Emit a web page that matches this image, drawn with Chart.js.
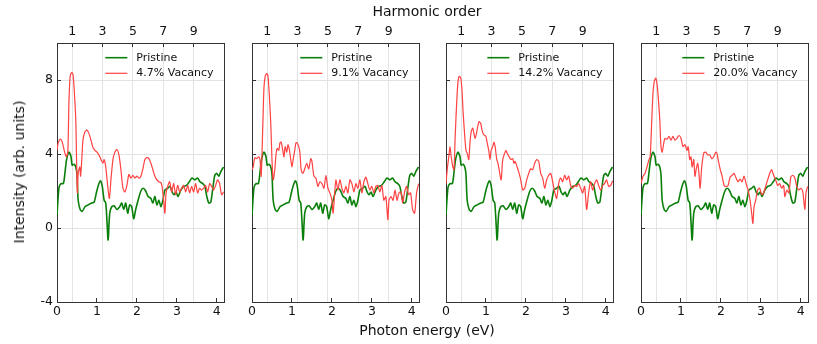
<!DOCTYPE html>
<html>
<head>
<meta charset="utf-8">
<script src="https://cdn.jsdelivr.net/npm/chart.js@4.4.0/dist/chart.umd.min.js"></script>
<style>
  body { margin: 0; background: #fff; }
  #fig { position: relative; width: 817px; height: 344px; overflow: hidden; font-family: "DejaVu Sans", sans-serif; color: #111; }
  #fig canvas { position: absolute; top: 0; }
  .lbl { position: absolute; font-size: 14px; white-space: nowrap; transform: translate(-50%, -50%); }
</style>
</head>
<body>
<div id="fig">
  <canvas id="p0" width="230" height="344"></canvas>
  <canvas id="p1" width="230" height="344"></canvas>
  <canvas id="p2" width="230" height="344"></canvas>
  <canvas id="p3" width="230" height="344"></canvas>
  <div class="lbl" style="left:427px;top:11px">Harmonic order</div>
  <div class="lbl" style="left:427px;top:330px">Photon energy (eV)</div>
  <div class="lbl" style="left:19px;top:172px;transform:translate(-50%,-50%) rotate(-90deg)">Intensity (arb. units)</div>
</div>
<script>
// photon energy (eV), intensity (arb. units)
const pristine = [[0,0.7],[0.05,2.2],[0.1,2.4],[0.16,2.4],[0.2,3.0],[0.24,3.7],[0.3,4.1],[0.35,3.85],[0.38,3.4],[0.43,3.45],[0.47,3.3],[0.5,2.9],[0.53,1.5],[0.58,1.0],[0.63,0.9],[0.7,1.15],[0.78,1.25],[0.87,1.35],[0.93,1.4],[0.99,1.95],[1.05,2.4],[1.09,2.55],[1.13,2.3],[1.18,1.5],[1.22,1.35],[1.25,0.4],[1.28,-0.65],[1.32,0.8],[1.37,1.15],[1.43,1.2],[1.5,1.0],[1.57,1.15],[1.62,1.35],[1.67,1.0],[1.72,1.35],[1.77,0.8],[1.82,1.25],[1.87,1.15],[1.92,0.5],[1.97,1.0],[2.03,1.5],[2.1,2.0],[2.16,2.15],[2.22,2.0],[2.28,1.7],[2.35,1.6],[2.4,1.35],[2.45,1.7],[2.5,1.25],[2.55,1.5],[2.6,1.15],[2.65,1.5],[2.7,2.05],[2.77,2.15],[2.83,2.25],[2.88,1.95],[2.93,1.8],[2.98,1.95],[3.03,1.7],[3.1,2.05],[3.17,2.25],[3.24,2.3],[3.31,2.5],[3.38,2.7],[3.45,2.6],[3.52,2.7],[3.58,2.5],[3.65,2.4],[3.7,2.25],[3.75,1.7],[3.8,1.35],[3.85,1.4],[3.9,2.15],[3.95,2.85],[4.0,2.95],[4.05,2.8],[4.1,3.05],[4.17,3.3]];

const vac47 = [[0,4.2],[0.03,4.6],[0.08,4.8],[0.13,4.65],[0.18,4.2],[0.23,3.85],[0.27,4.1],[0.3,6.9],[0.33,8.2],[0.37,8.4],[0.4,8.3],[0.43,7.5],[0.47,5.85],[0.49,3.7],[0.51,1.9],[0.53,2.95],[0.57,3.3],[0.59,2.8],[0.62,3.7],[0.65,4.75],[0.7,5.2],[0.75,5.3],[0.8,5.1],[0.85,4.75],[0.9,4.35],[0.95,4.2],[1.0,4.1],[1.05,3.95],[1.1,3.7],[1.15,3.5],[1.18,3.7],[1.22,3.3],[1.27,2.25],[1.31,1.6],[1.35,2.6],[1.4,3.7],[1.45,4.1],[1.5,4.25],[1.55,3.95],[1.6,3.15],[1.65,2.15],[1.7,1.95],[1.75,2.3],[1.8,2.9],[1.85,2.7],[1.9,2.85],[1.95,2.7],[2.0,2.8],[2.05,2.7],[2.1,2.8],[2.15,3.2],[2.2,3.7],[2.25,3.8],[2.3,3.75],[2.35,3.5],[2.4,3.15],[2.45,2.8],[2.5,2.6],[2.55,2.5],[2.6,2.45],[2.63,2.25],[2.67,1.5],[2.7,0.8],[2.73,1.9],[2.77,2.25],[2.82,2.5],[2.87,1.95],[2.92,2.4],[2.97,1.8],[3.02,2.3],[3.07,1.95],[3.12,2.15],[3.17,2.3],[3.22,1.95],[3.27,2.3],[3.32,1.9],[3.37,2.25],[3.42,1.95],[3.47,2.4],[3.52,1.9],[3.57,2.15],[3.62,2.05],[3.67,2.15],[3.72,2.3],[3.77,1.95],[3.82,2.4],[3.87,2.25],[3.92,2.05],[3.97,2.3],[4.02,2.6],[4.07,2.4],[4.12,1.8],[4.17,1.95]];

const vac91 = [[0,3.15],[0.03,3.3],[0.07,3.8],[0.12,3.75],[0.17,3.85],[0.2,3.7],[0.23,2.8],[0.27,5.5],[0.3,7.6],[0.33,8.2],[0.37,8.35],[0.4,8.2],[0.43,7.3],[0.47,5.65],[0.5,3.7],[0.53,2.6],[0.57,3.15],[0.6,3.95],[0.63,4.3],[0.67,4.2],[0.7,4.6],[0.73,4.65],[0.77,4.2],[0.8,3.85],[0.83,4.4],[0.87,4.1],[0.9,4.5],[0.93,4.3],[0.97,3.7],[1.0,3.3],[1.03,3.7],[1.07,4.2],[1.1,4.6],[1.13,4.6],[1.17,4.4],[1.2,4.05],[1.23,3.15],[1.27,2.95],[1.32,3.2],[1.37,3.5],[1.42,3.2],[1.47,3.75],[1.5,3.6],[1.55,2.8],[1.6,2.7],[1.65,2.25],[1.7,2.5],[1.75,2.4],[1.8,2.15],[1.85,2.85],[1.9,2.15],[1.95,1.9],[2.0,1.5],[2.03,0.8],[2.07,1.9],[2.1,2.6],[2.15,2.05],[2.2,2.6],[2.25,2.15],[2.3,1.9],[2.35,2.25],[2.4,1.9],[2.45,2.6],[2.5,2.4],[2.55,1.95],[2.6,2.4],[2.65,2.15],[2.7,2.6],[2.75,1.9],[2.8,2.5],[2.85,2.75],[2.9,2.4],[2.95,2.05],[3.0,2.25],[3.05,1.9],[3.1,2.25],[3.15,2.3],[3.2,1.95],[3.25,2.3],[3.3,1.5],[3.35,1.7],[3.4,0.45],[3.43,1.5],[3.48,1.7],[3.53,1.5],[3.58,2.05],[3.63,1.5],[3.68,1.9],[3.73,1.95],[3.77,1.35],[3.82,1.95],[3.87,2.25],[3.92,1.8],[3.97,1.9],[4.02,1.0],[4.07,0.8],[4.12,1.9],[4.17,2.4]];

const vac142 = [[0,2.4],[0.03,3.15],[0.07,3.85],[0.1,4.4],[0.13,3.85],[0.17,3.3],[0.2,3.15],[0.23,4.95],[0.27,6.9],[0.3,7.9],[0.33,8.2],[0.37,8.1],[0.4,7.45],[0.43,6.2],[0.47,4.95],[0.5,4.2],[0.53,4.05],[0.57,3.7],[0.6,4.6],[0.63,5.2],[0.67,5.4],[0.7,5.1],[0.73,4.85],[0.77,5.2],[0.8,5.55],[0.83,5.75],[0.87,5.65],[0.9,5.3],[0.93,5.1],[0.97,5.0],[1.0,4.95],[1.03,4.6],[1.07,4.2],[1.1,3.7],[1.13,4.2],[1.17,4.4],[1.2,4.65],[1.23,4.4],[1.27,3.7],[1.3,3.5],[1.33,3.15],[1.38,2.6],[1.42,3.7],[1.47,4.05],[1.5,4.2],[1.53,4.05],[1.58,3.85],[1.62,3.7],[1.67,3.75],[1.7,3.5],[1.73,3.6],[1.78,3.3],[1.83,2.95],[1.87,2.6],[1.92,2.05],[1.97,2.15],[2.02,2.6],[2.07,2.95],[2.12,3.2],[2.17,3.15],[2.22,3.5],[2.27,3.7],[2.32,3.6],[2.37,2.95],[2.42,2.7],[2.47,2.15],[2.52,2.6],[2.57,2.85],[2.62,2.95],[2.67,2.5],[2.72,1.95],[2.77,1.6],[2.82,2.4],[2.87,2.7],[2.92,2.5],[2.97,2.85],[3.02,2.6],[3.07,2.8],[3.12,2.3],[3.17,2.15],[3.22,2.3],[3.27,2.25],[3.32,2.4],[3.37,2.15],[3.42,1.9],[3.47,2.25],[3.52,1.0],[3.57,1.9],[3.62,2.5],[3.67,2.05],[3.72,2.4],[3.77,2.6],[3.82,2.3],[3.87,2.05],[3.92,2.3],[3.97,2.4],[4.02,2.6],[4.07,2.25],[4.12,2.3],[4.17,2.55]];

const vac200 = [[0,2.4],[0.05,2.8],[0.1,2.95],[0.15,3.3],[0.2,3.7],[0.23,3.85],[0.27,5.85],[0.3,7.3],[0.33,7.9],[0.37,8.1],[0.4,7.8],[0.43,7.1],[0.47,5.85],[0.5,4.4],[0.53,4.1],[0.57,4.6],[0.6,4.85],[0.65,4.8],[0.7,4.95],[0.75,4.75],[0.8,4.95],[0.85,4.75],[0.9,4.85],[0.95,5.0],[1.0,4.85],[1.05,4.4],[1.1,4.5],[1.15,4.2],[1.18,4.4],[1.22,3.7],[1.25,3.85],[1.28,3.3],[1.32,3.7],[1.35,2.8],[1.38,3.15],[1.42,3.5],[1.45,2.95],[1.48,2.15],[1.52,3.3],[1.57,4.05],[1.62,4.1],[1.67,3.95],[1.72,3.95],[1.77,3.75],[1.82,3.85],[1.87,4.1],[1.9,4.05],[1.93,3.7],[1.98,3.2],[2.03,2.8],[2.08,2.3],[2.13,2.25],[2.18,2.3],[2.23,2.75],[2.28,2.85],[2.33,2.95],[2.38,2.7],[2.43,2.5],[2.48,2.65],[2.53,2.5],[2.58,2.8],[2.63,2.4],[2.68,2.05],[2.73,1.5],[2.77,0.8],[2.8,0.25],[2.83,1.15],[2.87,1.5],[2.92,2.05],[2.97,2.15],[3.02,1.8],[3.07,1.9],[3.12,2.25],[3.17,2.6],[3.22,2.95],[3.27,3.15],[3.32,2.85],[3.37,2.6],[3.42,2.3],[3.47,2.4],[3.52,2.15],[3.57,2.3],[3.6,1.7],[3.65,2.05],[3.7,1.9],[3.75,2.75],[3.8,2.85],[3.85,2.7],[3.9,2.25],[3.95,2.05],[4.0,2.15],[4.05,1.95],[4.1,1.0],[4.13,1.9],[4.17,2.25]];

const vacancySeries = [vac47, vac91, vac142, vac200];
const vacancyLabels = ['4.7% Vacancy', '9.1% Vacancy', '14.2% Vacancy', '20.0% Vacancy'];

const energyTicks = [0, 1, 2, 3, 4];
const intensityTicks = [-4, 0, 4, 8];
const harmonicTicks = [1, 3, 5, 7, 9];
const fundamental = 0.38;   // eV, energy of harmonic 1
const energyMax = 4.18;

// canvas left offsets, the plot area starts 57px into each canvas
const panelLeft = [0, 195, 389, 584];

const axisColor = '#333';
const gridColor = '#e3e3e3';

Chart.defaults.font.family = '"DejaVu Sans", sans-serif';
Chart.defaults.color = '#111';

// legend in the upper right of the plot area, entries left aligned
const cornerLegend = {
    id: 'cornerLegend',
    afterDraw(chart) {
        const ctx = chart.ctx;
        const area = chart.chartArea;
        const sets = chart.data.datasets;
        ctx.save();
        ctx.font = '11px "DejaVu Sans"';
        const w = Math.max(...sets.map(d => ctx.measureText(d.label).width));
        const tx = area.right - 10.5 - w;
        sets.forEach((d, i) => {
            const y = area.top + 14.7 + i * 15.6;
            ctx.strokeStyle = d.borderColor;
            ctx.lineWidth = d.borderWidth;
            ctx.beginPath();
            ctx.moveTo(tx - 31, y);
            ctx.lineTo(tx - 9, y);
            ctx.stroke();
            ctx.fillStyle = '#111';
            ctx.textBaseline = 'middle';
            ctx.fillText(d.label, tx, y);
        });
        ctx.restore();
    }
};

function toPoints(series) {
    return series.map(p => ({x: p[0], y: p[1]}));
}

function setTicks(values) {
    return (scale) => { scale.ticks = values.map(v => ({value: v})); };
}

function fixSize(key, size) {
    return (scale) => { scale[key] = size; };
}

function drawPanel(i) {
    const canvas = document.getElementById('p' + i);
    canvas.style.left = panelLeft[i] + 'px';

    return new Chart(canvas.getContext('2d'), {
        type: 'line',
        data: {
            datasets: [
                {
                    label: 'Pristine',
                    data: toPoints(pristine),
                    borderColor: '#0a7f0a',
                    borderWidth: 1.6,
                    order: 1
                },
                {
                    label: vacancyLabels[i],
                    data: toPoints(vacancySeries[i]),
                    borderColor: '#ff4242',
                    borderWidth: 1.2,
                    order: 0
                }
            ]
        },
        options: {
            responsive: false,
            animation: false,
            devicePixelRatio: 1,
            layout: {padding: 0},
            elements: {
                point: {radius: 0},
                line: {tension: 0.25}
            },
            plugins: {
                legend: {display: false},
                tooltip: {enabled: false}
            },
            scales: {
                x: {
                    type: 'linear',
                    position: 'bottom',
                    min: 0,
                    max: energyMax,
                    afterBuildTicks: setTicks(energyTicks),
                    afterFit: fixSize('height', 42),
                    grid: {drawOnChartArea: false, tickLength: -4, tickColor: axisColor},
                    border: {color: axisColor},
                    ticks: {padding: 6.5, font: {size: 12.5}, maxRotation: 0}
                },
                top: {
                    type: 'linear',
                    position: 'top',
                    min: 0,
                    max: energyMax / fundamental,
                    afterBuildTicks: setTicks(harmonicTicks),
                    afterFit: fixSize('height', 43),
                    grid: {color: gridColor, tickLength: -4, tickColor: axisColor},
                    border: {color: axisColor},
                    ticks: {padding: 7.5, font: {size: 12.5}, maxRotation: 0}
                },
                y: {
                    type: 'linear',
                    position: 'left',
                    min: -4,
                    max: 10,
                    afterBuildTicks: setTicks(intensityTicks),
                    afterFit: fixSize('width', 57),
                    grid: {color: gridColor, tickLength: -4, tickColor: axisColor},
                    border: {color: axisColor},
                    ticks: {display: i === 0, padding: 8, font: {size: 12.5}}
                },
                yr: {
                    type: 'linear',
                    position: 'right',
                    afterFit: fixSize('width', 6),
                    grid: {display: false},
                    border: {color: axisColor},
                    ticks: {display: false}
                }
            }
        },
        plugins: [cornerLegend]
    });
}

for (let i = 0; i < 4; i++) {
    drawPanel(i);
}
</script>
</body>
</html>
